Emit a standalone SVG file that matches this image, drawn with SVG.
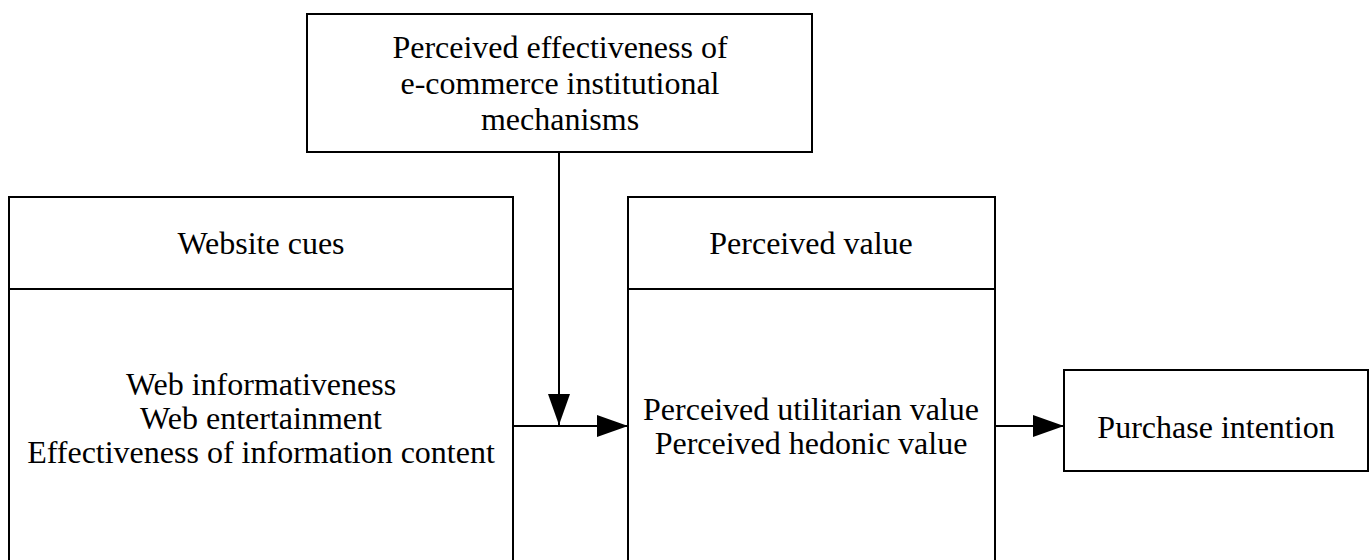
<svg xmlns="http://www.w3.org/2000/svg" width="1371" height="560" viewBox="0 0 1371 560">
<style>
.box{fill:#fff;stroke:#000;stroke-width:2}
.t{font-family:"Liberation Serif","Times New Roman",serif;font-size:32px;fill:#000;text-anchor:middle}
.c{stroke:#000;stroke-width:2;fill:none}
</style>
<defs>
<marker id="ah" markerUnits="userSpaceOnUse" markerWidth="32" markerHeight="22" refX="31" refY="11" orient="auto">
<path d="M0,0 L31,11 L0,22 Z" fill="#000"/>
</marker>
</defs>
<rect width="1371" height="560" fill="#fff"/>
<g id="node-institutional">
<rect class="box" x="307" y="14" width="505" height="138"/>
<text class="t" x="560" y="58">Perceived effectiveness of</text>
<text class="t" x="560" y="94">e-commerce institutional</text>
<text class="t" x="560" y="130">mechanisms</text>
</g>
<g id="node-website-cues">
<rect class="box" x="9" y="197" width="504" height="400"/>
<line class="c" x1="9" y1="289" x2="513" y2="289"/>
<text class="t" x="261" y="254">Website cues</text>
<text class="t" x="261" y="395">Web informativeness</text>
<text class="t" x="261" y="429">Web entertainment</text>
<text class="t" x="261" y="463">Effectiveness of information content</text>
</g>
<g id="node-perceived-value">
<rect class="box" x="628" y="197" width="367" height="400"/>
<line class="c" x1="628" y1="289" x2="995" y2="289"/>
<text class="t" x="811" y="254">Perceived value</text>
<text class="t" x="811" y="420">Perceived utilitarian value</text>
<text class="t" x="811" y="454">Perceived hedonic value</text>
</g>
<g id="node-purchase">
<rect class="box" x="1064" y="370" width="304" height="101"/>
<text class="t" x="1216" y="438">Purchase intention</text>
</g>
<g id="connectors">
<line class="c" x1="513" y1="426" x2="628" y2="426" marker-end="url(#ah)"/>
<line class="c" x1="559" y1="152" x2="559" y2="425" marker-end="url(#ah)"/>
<line class="c" x1="995" y1="426" x2="1064" y2="426" marker-end="url(#ah)"/>
</g>
</svg>
